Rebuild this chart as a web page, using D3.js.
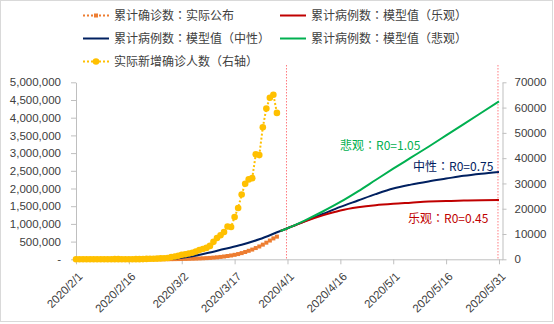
<!DOCTYPE html>
<html>
<head>
<meta charset="utf-8">
<script src="https://cdn.jsdelivr.net/npm/d3@7"></script>
<style>
  html, body { margin: 0; padding: 0; background: #fff; }
  svg { display: block; }
  text { font-family: "Noto Sans CJK SC", "Noto Sans", sans-serif; }
  .num { font-family: "Liberation Sans", "DejaVu Sans", sans-serif; }
  .punct { font-family: "Noto Sans CJK JP", "Noto Sans CJK SC", sans-serif; }
</style>
</head>
<body>
<svg id="chart" width="554" height="324"></svg>
<script>
// ---- reported data: 2020/2/1 .. 2020/3/29 ----
const actualStart = "2020-02-01";
const newCases = [
  20, 10, 15, 25, 30, 35, 25, 40, 45, 20,
  25, 50, 60, 45, 40, 35, 45, 55, 50, 70,
  150, 200, 230, 280, 350, 400, 500, 900, 1100, 1400,
  1800, 2000, 2300, 2600, 3100, 3700, 4100, 4500, 5300, 6900,
  8400, 9500, 10800, 13000, 12800, 16700, 20300, 25600, 29900, 31600,
  32100, 41500, 41200, 52200, 59600, 63900, 65100, 57900
];
const cumCases = [
  170, 180, 195, 220, 250, 285, 310, 350, 395, 415,
  440, 490, 550, 595, 635, 670, 715, 770, 820, 890,
  1040, 1240, 1470, 1750, 2100, 2500, 3000, 4000, 5200, 6800,
  8800, 11000, 13600, 16500, 20000, 24000, 28500, 33500, 39500, 47000,
  56000, 67000, 79000, 93000, 108000, 126000, 148000, 175000, 206000, 240000,
  275000, 318000, 362000, 414000, 470000, 530000, 590000, 640000
];

// ---- model scenarios ----
const modelDates = [
  "2020-02-28", "2020-03-04", "2020-03-09", "2020-03-14", "2020-03-19", "2020-03-24",
  "2020-03-30", "2020-04-01", "2020-04-06", "2020-04-11", "2020-04-16", "2020-04-21",
  "2020-04-26", "2020-05-01", "2020-05-06", "2020-05-11", "2020-05-16", "2020-05-21",
  "2020-05-26", "2020-05-31"
];
const modelNeutral = [
  5000, 70000, 170000, 290000, 410000, 565000,
  800000, 876000, 1080000, 1280000, 1480000, 1660000,
  1840000, 2000000, 2110000, 2200000, 2280000, 2360000,
  2420000, 2470000
];
const modelOptimistic = [
  null, null, null, null, null, null,
  800000, 876000, 1070000, 1240000, 1380000, 1470000,
  1530000, 1570000, 1600000, 1630000, 1650000, 1660000,
  1670000, 1675000
];
const modelPessimistic = [
  null, null, null, null, null, null,
  800000, 876000, 1100000, 1350000, 1620000, 1920000,
  2240000, 2560000, 2870000, 3180000, 3500000, 3820000,
  4140000, 4460000
];

// ---- axes ----
const xTickDates = ["2020-02-01", "2020-02-16", "2020-03-02", "2020-03-17", "2020-04-01",
                    "2020-04-16", "2020-05-01", "2020-05-16", "2020-05-31"];
const xDomain = ["2020-02-01", "2020-06-01"];
const leftTicks = [0, 500000, 1000000, 1500000, 2000000, 2500000, 3000000, 3500000, 4000000, 4500000, 5000000];
const rightTicks = [0, 10000, 20000, 30000, 40000, 50000, 60000, 70000];
const markerDates = ["2020-04-01", "2020-05-31"];

// ---- labels ----
const seriesNames = {
  actual: "累计确诊数：实际公布",
  neutral: "累计病例数：模型值（中性）",
  daily: "实际新增确诊人数（右轴）",
  optimistic: "累计病例数：模型值（乐观）",
  pessimistic: "累计病例数：模型值（悲观）"
};
const scenarioNotes = [
  { key: "pessimistic", text: "悲观：R0=1.05" },
  { key: "neutral", text: "中性：R0=0.75" },
  { key: "optimistic", text: "乐观：R0=0.45" }
];

const colors = {
  actual: "#ED7D31",
  neutral: "#002060",
  optimistic: "#C00000",
  pessimistic: "#00B050",
  daily: "#FFC000",
  axis: "#BFBFBF",
  text: "#404040",
  marker: "#FF7C80"
};

const parse = d3.utcParse("%Y-%m-%d");
const svg = d3.select("#chart");

const plot = { left: 76, right: 502.5, top: 82.3, bottom: 259.3 };

const x = d3.scaleUtc().domain(xDomain.map(parse)).range([plot.left, plot.right]);
const yL = d3.scaleLinear().domain([0, 5000000]).range([plot.bottom, plot.top]);
const yR = d3.scaleLinear().domain([0, 70000]).range([plot.bottom, plot.top]);

// writes a label, setting full-width colons in a face that centres them
function setLabel(sel, str) {
  str.split(/(：)/).filter(s => s.length).forEach(part => {
    const t = sel.append("tspan").text(part);
    if (part === "：") t.attr("class", "punct");
  });
}

// outer frame
svg.append("rect")
  .attr("x", 0.5).attr("y", 0.5).attr("width", 552).attr("height", 321)
  .attr("fill", "#fff").attr("stroke", "#D9D9D9");

// daily series table
const start = parse(actualStart);
const actualRows = newCases.map((v, i) => ({
  date: d3.utcDay.offset(start, i), daily: v, cum: cumCases[i]
}));
const modelRows = modelDates.map((d, i) => ({
  date: parse(d),
  neutral: modelNeutral[i],
  optimistic: modelOptimistic[i],
  pessimistic: modelPessimistic[i]
}));

// axes
function styleAxis(g) {
  g.select(".domain").attr("stroke", colors.axis);
  g.selectAll(".tick line").attr("stroke", colors.axis);
  g.selectAll(".tick text").attr("fill", colors.text).attr("class", "num")
    .style("font-size", "11.5px");
}

svg.append("g")
  .attr("transform", `translate(${plot.left},0)`)
  .call(d3.axisLeft(yL).tickValues(leftTicks).tickSize(5).tickPadding(10).tickSizeOuter(0)
    .tickFormat(d => d === 0 ? "-" : d3.format(",")(d)))
  .call(styleAxis);

svg.append("g")
  .attr("transform", `translate(${plot.right},0)`)
  .call(d3.axisRight(yR).tickValues(rightTicks).tickSize(4).tickPadding(8).tickSizeOuter(0)
    .tickFormat(d3.format("d")))
  .call(styleAxis);

const fmtDate = d => `${d.getUTCFullYear()}/${d.getUTCMonth() + 1}/${d.getUTCDate()}`;
const xAxis = svg.append("g")
  .attr("transform", `translate(0,${plot.bottom})`)
  .call(d3.axisBottom(x).tickValues(xTickDates.map(parse)).tickSize(5).tickSizeOuter(0)
    .tickFormat(fmtDate))
  .call(styleAxis);
xAxis.selectAll(".tick text")
  .attr("text-anchor", "end")
  .attr("x", 0).attr("y", 0).attr("dy", "0.35em")
  .attr("transform", "translate(4,15) rotate(-45)");

// reference dates
svg.append("g").selectAll("line")
  .data(markerDates.map(parse))
  .join("line")
  .attr("x1", d => x(d) - 1).attr("x2", d => x(d) - 1)
  .attr("y1", 65).attr("y2", plot.bottom)
  .attr("stroke", colors.marker).attr("stroke-width", 1)
  .attr("stroke-dasharray", "1.5,1.5");

// reported cumulative cases (left axis)
svg.append("path")
  .datum(actualRows)
  .attr("fill", "none").attr("stroke", colors.actual).attr("stroke-width", 2)
  .attr("stroke-dasharray", "2,2")
  .attr("d", d3.line().x(d => x(d.date)).y(d => yL(d.cum)));
svg.append("g").selectAll("rect")
  .data(actualRows)
  .join("rect")
  .attr("x", d => x(d.date) - 2).attr("y", d => yL(d.cum) - 2)
  .attr("width", 4).attr("height", 4)
  .attr("fill", colors.actual);

// model scenarios (left axis)
["neutral", "optimistic", "pessimistic"].forEach(key => {
  svg.append("path")
    .datum(modelRows)
    .attr("fill", "none").attr("stroke", colors[key]).attr("stroke-width", 2)
    .attr("d", d3.line()
      .defined(d => d[key] != null)
      .curve(d3.curveMonotoneX)
      .x(d => x(d.date)).y(d => yL(d[key])));
});

// daily new cases (right axis)
svg.append("path")
  .datum(actualRows)
  .attr("fill", "none").attr("stroke", colors.daily).attr("stroke-width", 2)
  .attr("stroke-dasharray", "2,2")
  .attr("d", d3.line().x(d => x(d.date)).y(d => yR(d.daily)));
svg.append("g").selectAll("circle")
  .data(actualRows)
  .join("circle")
  .attr("cx", d => x(d.date)).attr("cy", d => yR(d.daily))
  .attr("r", 3.3)
  .attr("fill", colors.daily);

// scenario notes
const notePos = {
  pessimistic: [340, 146],
  neutral: [413, 167],
  optimistic: [408, 219]
};
svg.append("g").selectAll("text")
  .data(scenarioNotes)
  .join("text")
  .attr("x", d => notePos[d.key][0]).attr("y", d => notePos[d.key][1])
  .attr("dy", "0.35em")
  .attr("fill", d => colors[d.key])
  .style("font-size", "12px")
  .each(function (d) { setLabel(d3.select(this), d.text); });

// legend
const legendItems = [
  { key: "actual", col: 0, row: 0, dotted: true, mark: "square" },
  { key: "neutral", col: 0, row: 1, dotted: false },
  { key: "daily", col: 0, row: 2, dotted: true, mark: "circle" },
  { key: "optimistic", col: 1, row: 0, dotted: false },
  { key: "pessimistic", col: 1, row: 1, dotted: false }
];
const legendX = [83, 280];
const legendY = [15.5, 38.5, 61.5];
const lg = svg.append("g").selectAll("g")
  .data(legendItems)
  .join("g")
  .attr("transform", d => `translate(${legendX[d.col]},${legendY[d.row]})`);
lg.append("line")
  .attr("x1", 0).attr("x2", 26).attr("y1", 0).attr("y2", 0)
  .attr("stroke", d => colors[d.key]).attr("stroke-width", 2)
  .attr("stroke-dasharray", d => d.dotted ? "2,2" : null);
lg.filter(d => d.mark === "square").append("rect")
  .attr("x", 11).attr("y", -2).attr("width", 4).attr("height", 4)
  .attr("fill", d => colors[d.key]);
lg.filter(d => d.mark === "circle").append("circle")
  .attr("cx", 13).attr("cy", 0).attr("r", 3.3)
  .attr("fill", d => colors[d.key]);
lg.append("text")
  .attr("x", 31).attr("y", 0).attr("dy", "0.35em")
  .attr("fill", colors.text)
  .style("font-size", "12px")
  .each(function (d) { setLabel(d3.select(this), seriesNames[d.key]); });
</script>
</body>
</html>
